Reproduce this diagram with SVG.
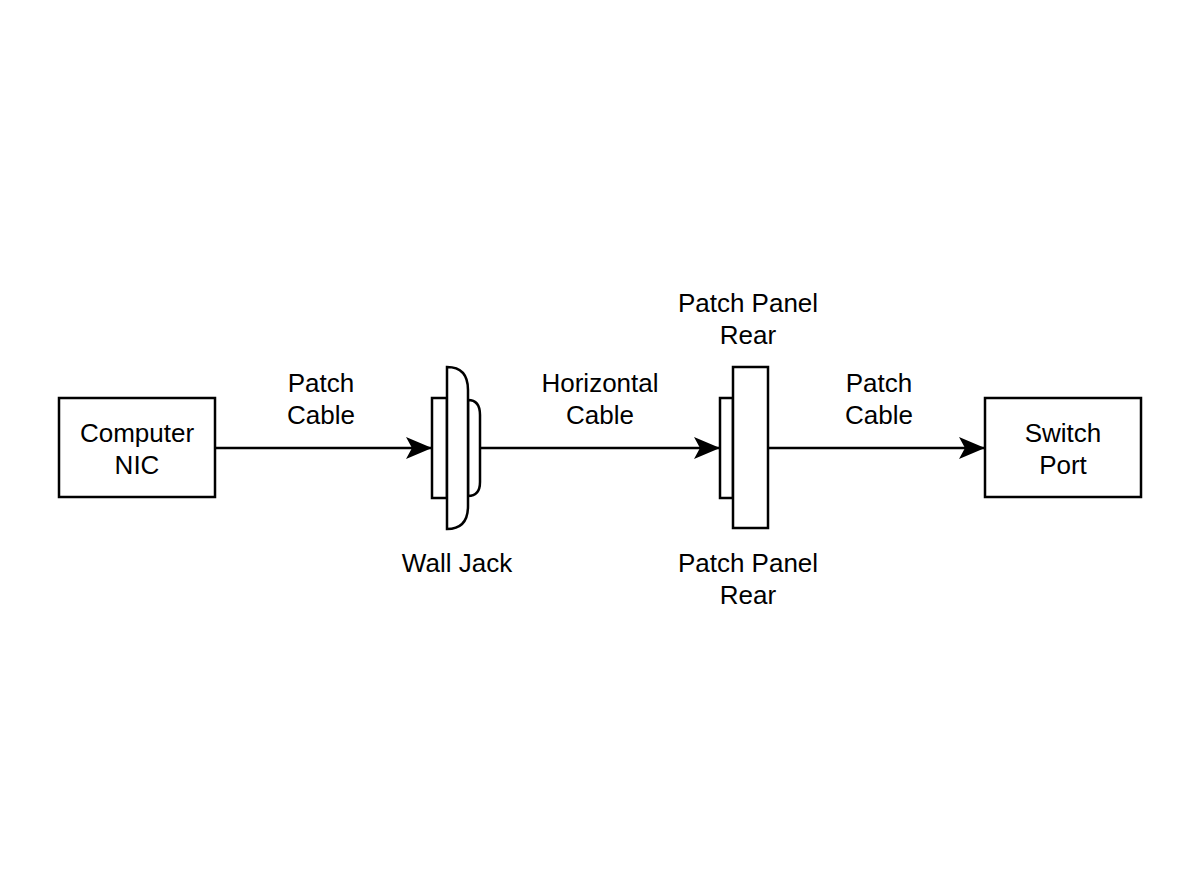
<svg xmlns="http://www.w3.org/2000/svg" width="1200" height="896" viewBox="0 0 1200 896">
<style>
.s{fill:#fff;stroke:#000;stroke-width:2.5}
text{font-family:"Liberation Sans",Arial,sans-serif;font-size:26px;text-anchor:middle;fill:#000}
.c{stroke:#000;stroke-width:2.5;fill:none}
</style>
<defs><marker id="a" markerWidth="26" markerHeight="22" refX="25" refY="11" orient="auto" markerUnits="userSpaceOnUse" viewBox="0 0 26 22"><path d="M0,0 L26,11 L0,22 L6,11 Z"/></marker></defs>
<rect width="1200" height="896" fill="#fff"/>
<g id="connectors">
<line class="c" x1="215" y1="448" x2="431" y2="448" marker-end="url(#a)"/>
<line class="c" x1="480" y1="448" x2="719" y2="448" marker-end="url(#a)"/>
<line class="c" x1="768" y1="448" x2="984" y2="448" marker-end="url(#a)"/>
<text x="321" y="392">Patch</text><text x="321" y="424">Cable</text>
<text x="600" y="392">Horizontal</text><text x="600" y="424">Cable</text>
<text x="879" y="392">Patch</text><text x="879" y="424">Cable</text>
</g>
<g id="nic"><rect class="s" x="59" y="398" width="156" height="99"/><text x="137" y="442">Computer</text><text x="137" y="474">NIC</text></g>
<g id="walljack">
<rect class="s" x="432" y="398" width="15" height="100"/>
<path class="s" d="M468,400 Q480,400 480,415 L480,482 Q480,496 468,496 Z"/>
<path class="s" d="M447,367 Q468,367 468,390 L468,506 Q468,529 447,529 Z"/>
<text x="457" y="572">Wall Jack</text>
</g>
<g id="patchpanel">
<rect class="s" x="720" y="398" width="13" height="100"/>
<rect class="s" x="733" y="367" width="35" height="161"/>
<text x="748" y="312">Patch Panel</text><text x="748" y="344">Rear</text>
<text x="748" y="572">Patch Panel</text><text x="748" y="604">Rear</text>
</g>
<g id="switch"><rect class="s" x="985" y="398" width="156" height="99"/><text x="1063" y="442">Switch</text><text x="1063" y="474">Port</text></g>
</svg>
